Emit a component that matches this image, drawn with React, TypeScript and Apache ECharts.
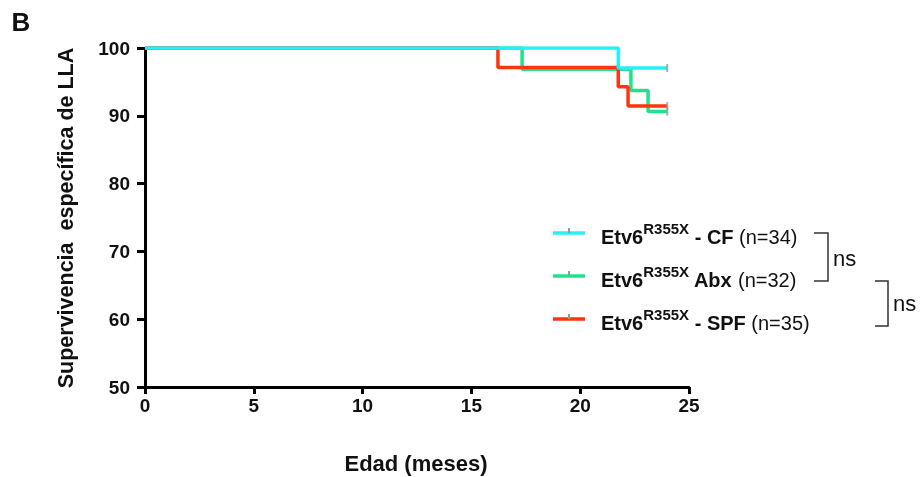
import React, { useEffect, useRef } from "react";
import * as echarts from "echarts";

const xTicks = [0, 5, 10, 15, 20, 25];
const yTicks = [50, 60, 70, 80, 90, 100];

// Kaplan-Meier steps [months, % survival]
const cfCurve: [number, number][] = [
  [0, 100],
  [21.75, 97.06],
  [24, 97.06],
];
const abxCurve: [number, number][] = [
  [0, 100],
  [17.33, 96.88],
  [22.33, 93.75],
  [23.12, 90.63],
  [24, 90.63],
];
const spfCurve: [number, number][] = [
  [0, 100],
  [16.22, 97.14],
  [21.75, 94.29],
  [22.2, 91.43],
  [24, 91.43],
];
const censored: [number, number][] = [
  [24, 97.06],
  [24, 90.63],
  [24, 91.43],
];

const legendLabels = [
  { grp: " - CF", n: " (n=34)" },
  { grp: " Abx", n: " (n=32)" },
  { grp: " - SPF", n: " (n=35)" },
];

const CYAN = "#22F2F8";
const GREEN = "#1FE38C";
const RED = "#FF3512";
const FONT = "'Liberation Sans', Arial, sans-serif";

export default function App() {
  const ref = useRef<HTMLDivElement>(null);
  useEffect(() => {
    if (!ref.current) return;
    const chart = echarts.init(ref.current, undefined, { renderer: "svg" });
    const colors = [CYAN, GREEN, RED];
    const legendY = [233, 276, 319];
    const legendGraphics: any[] = [];
    legendLabels.forEach((l, i) => {
      legendGraphics.push({
        type: "line",
        shape: { x1: 553, y1: legendY[i], x2: 585, y2: legendY[i] },
        style: { stroke: colors[i], lineWidth: 3.5 },
      });
      legendGraphics.push({
        type: "rect",
        shape: { x: 568, y: legendY[i] - 5, width: 2, height: 5 },
        style: { fill: "#999" },
      });
      legendGraphics.push({
        type: "text",
        x: 601,
        y: legendY[i] + 1,
        style: {
          text: `{b|Etv6}{sup|R355X}{b|${l.grp}}{n|${l.n}}`,
          verticalAlign: "middle",
          align: "left",
          rich: {
            b: { fontFamily: FONT, fontWeight: "bold", fontSize: 20, lineHeight: 26, fill: "#111", verticalAlign: "bottom" },
            sup: { fontFamily: FONT, fontWeight: "bold", fontSize: 15, lineHeight: 15, fill: "#111", verticalAlign: "top" },
            n: { fontFamily: FONT, fontWeight: "normal", fontSize: 20, lineHeight: 26, fill: "#111", verticalAlign: "bottom" },
          },
        },
      });
    });
    const bracketStyle = { stroke: "#333", lineWidth: 1.5, fill: null };
    chart.setOption({
      animation: false,
      grid: { left: 145, right: 232, top: 48, bottom: 90 },
      xAxis: {
        type: "value",
        min: 0,
        max: 25,
        interval: 5,
        axisLine: { lineStyle: { color: "#000", width: 3 } },
        axisTick: { show: true, length: 7, lineStyle: { color: "#000", width: 3 } },
        axisLabel: { color: "#111", fontFamily: FONT, fontWeight: "bold", fontSize: 19, margin: 9 },
        splitLine: { show: false },
      },
      yAxis: {
        type: "value",
        min: 50,
        max: 100,
        interval: 10,
        axisLine: { show: true, lineStyle: { color: "#000", width: 3 } },
        axisTick: { show: true, length: 8, lineStyle: { color: "#000", width: 3 } },
        axisLabel: { color: "#111", fontFamily: FONT, fontWeight: "bold", fontSize: 19, margin: 15 },
        splitLine: { show: false },
      },
      series: [
        { type: "line", step: "end", data: abxCurve, showSymbol: false, lineStyle: { color: GREEN, width: 3.5 }, z: 2 },
        { type: "line", step: "end", data: spfCurve, showSymbol: false, lineStyle: { color: RED, width: 3.5 }, z: 3 },
        { type: "line", step: "end", data: cfCurve, showSymbol: false, lineStyle: { color: CYAN, width: 3.5 }, z: 4 },
        { type: "scatter", data: censored, symbol: "rect", symbolSize: [2, 8], itemStyle: { color: "#999" }, z: 5 },
      ],
      graphic: [
        {
          type: "text",
          x: 21,
          y: 22,
          style: { text: "B", fontFamily: FONT, fontWeight: "bold", fontSize: 26, fill: "#111", align: "center", verticalAlign: "middle" },
        },
        {
          type: "text",
          x: 66,
          y: 218,
          rotation: Math.PI / 2,
          style: {
            text: "Supervivencia  específica de LLA",
            fontFamily: FONT,
            fontWeight: "bold",
            fontSize: 21.5,
            fill: "#111",
            align: "center",
            verticalAlign: "middle",
          },
        },
        {
          type: "text",
          x: 416,
          y: 463,
          style: { text: "Edad (meses)", fontFamily: FONT, fontWeight: "bold", fontSize: 22, fill: "#111", align: "center", verticalAlign: "middle" },
        },
        ...legendGraphics,
        {
          type: "polyline",
          shape: { points: [[814, 233], [828, 233], [828, 281], [814, 281]] },
          style: bracketStyle,
        },
        {
          type: "text",
          x: 833,
          y: 258,
          style: { text: "ns", fontFamily: FONT, fontSize: 22, fill: "#111", align: "left", verticalAlign: "middle" },
        },
        {
          type: "polyline",
          shape: { points: [[875, 281], [888, 281], [888, 326], [875, 326]] },
          style: bracketStyle,
        },
        {
          type: "text",
          x: 893,
          y: 303,
          style: { text: "ns", fontFamily: FONT, fontSize: 22, fill: "#111", align: "left", verticalAlign: "middle" },
        },
      ],
    });
    return () => chart.dispose();
  }, []);
  return <div ref={ref} style={{ position: "fixed", left: 0, top: 0, width: 921, height: 477 }} />;
}
